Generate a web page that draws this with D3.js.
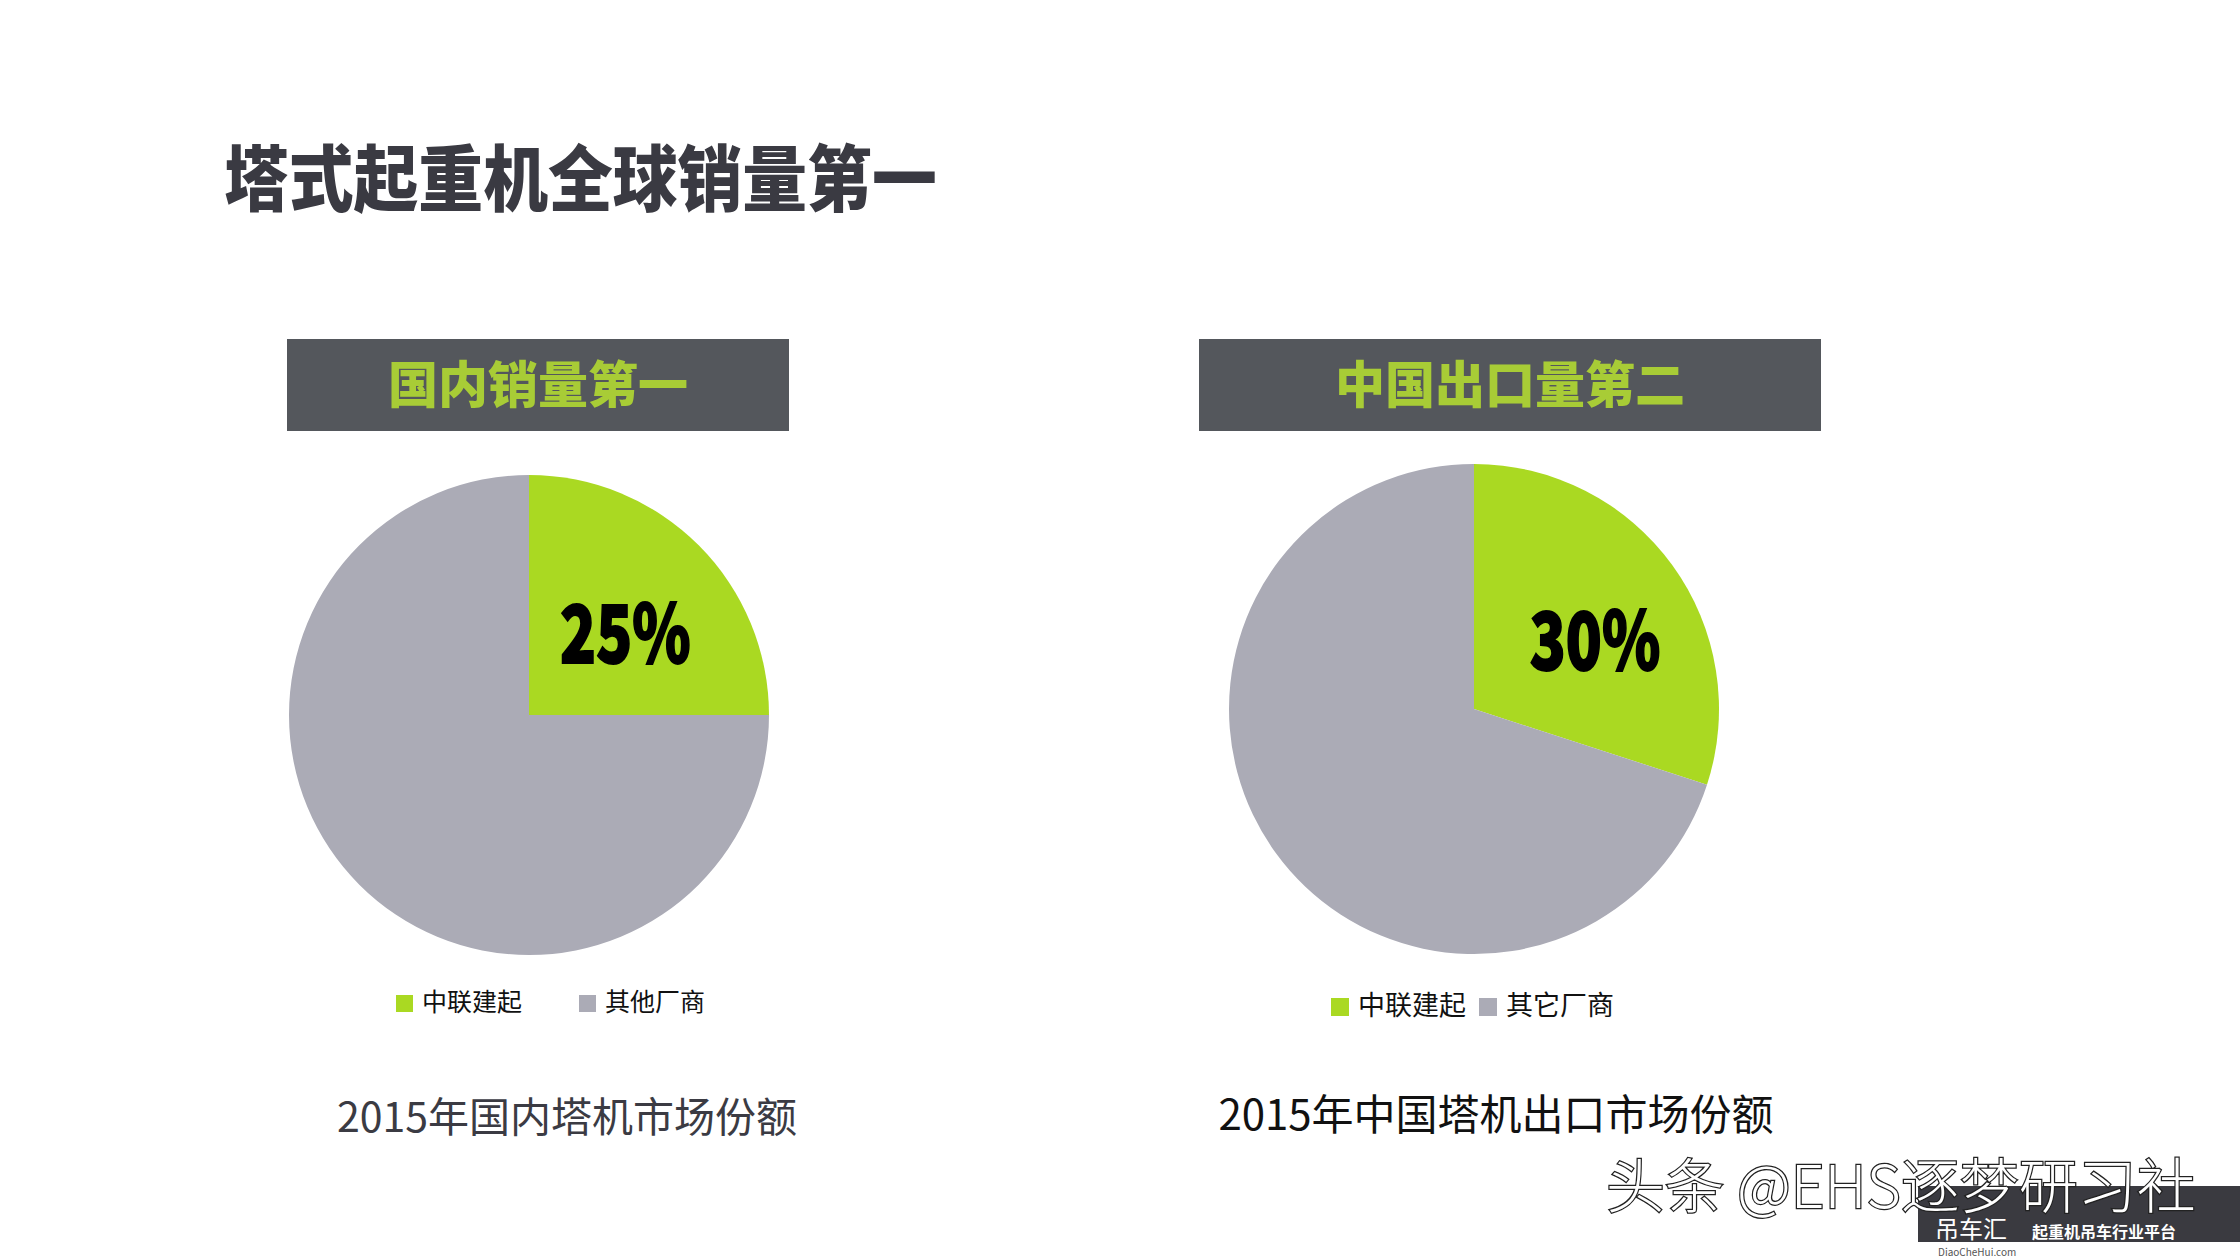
<!DOCTYPE html>
<html>
<head>
<meta charset="utf-8">
<script src="https://cdn.jsdelivr.net/npm/d3@7"></script>
<style>
  body { margin: 0; background: #fff; }
  text { font-family: "Noto Sans CJK SC", "Noto Sans", sans-serif; }
</style>
</head>
<body>
<div id="chart-area"></div>
<script>
const SVG_WIDTH = 2240;
const SVG_HEIGHT = 1260;

// data
const pageTitle = "塔式起重机全球销量第一";
const headerTitles = ["国内销量第一", "中国出口量第二"];
const captions = ["2015年国内塔机市场份额", "2015年中国塔机出口市场份额"];
const domesticLabels = ["中联建起", "其他厂商"];
const domesticValues = [25, 75];
const exportLabels = ["中联建起", "其它厂商"];
const exportValues = [30, 70];

const c = d3.scaleOrdinal().domain([0, 1]).range(["#aad922", "#ababb6"]);

// layout for the two panels
const panels = [
  { labels: domesticLabels, values: domesticValues, header: headerTitles[0], caption: captions[0],
    cx: 529, cy: 715, r: 240, lx: 3, ly: 41,
    box: { x: 287, y: 339, w: 502, h: 92 },
    legend: { y: 995, size: 17, font: 25, items: [396, 579] },
    cap: { x: 567, y: 1132, font: 41, fill: "#3b3b43" } },
  { labels: exportLabels, values: exportValues, header: headerTitles[1], caption: captions[1],
    cx: 1474, cy: 709, r: 245, lx: 12, ly: 40,
    box: { x: 1199, y: 339, w: 622, h: 92 },
    legend: { y: 998, size: 18, font: 27, items: [1331, 1479] },
    cap: { x: 1496, y: 1130, font: 42, fill: "#111" } }
];

const svg = d3.select("#chart-area").append("svg")
  .attr("width", SVG_WIDTH).attr("height", SVG_HEIGHT);

svg.append("text")
  .attr("transform", "translate(224,205) scale(0.9,1)")
  .attr("font-size", "72px")
  .attr("font-weight", 900)
  .style("fill", "#3a3a42")
  .text(pageTitle);

const pie = d3.pie().sort(null).value(d => d);

panels.forEach(p => {
  // header bar
  svg.append("rect")
    .attr("x", p.box.x).attr("y", p.box.y)
    .attr("width", p.box.w).attr("height", p.box.h)
    .attr("fill", "#54575c");
  svg.append("text")
    .attr("x", p.box.x + p.box.w / 2)
    .attr("y", p.box.y + p.box.h / 2 + 18)
    .attr("text-anchor", "middle")
    .attr("font-size", "50px")
    .attr("font-weight", 900)
    .style("fill", "#a8cc36")
    .text(p.header);

  const g = svg.append("g").attr("transform", `translate(${p.cx},${p.cy})`);
  const arc = d3.arc().innerRadius(0).outerRadius(p.r);
  const labelArc = d3.arc().innerRadius(p.r * 0.55).outerRadius(p.r * 0.55);
  const arcs = pie(p.values);

  g.selectAll("path").data(arcs).enter().append("path")
    .attr("d", arc)
    .attr("fill", (d, i) => c(i));

  // percentage on the first slice, narrow and heavy
  const total = d3.sum(p.values);
  const pos = labelArc.centroid(arcs[0]);
  g.append("text")
    .attr("transform", `translate(${pos[0] + p.lx},${pos[1] + p.ly}) scale(0.74,1)`)
    .attr("text-anchor", "middle")
    .attr("font-size", "80px")
    .attr("font-weight", 900)
    .style("fill", "#000")
    .style("stroke", "#000")
    .style("stroke-width", 2)
    .text(Math.round(p.values[0] / total * 100) + "%");

  // legend
  p.labels.forEach((lab, i) => {
    const lx = p.legend.items[i];
    svg.append("rect")
      .attr("x", lx).attr("y", p.legend.y)
      .attr("width", p.legend.size).attr("height", p.legend.size)
      .attr("fill", c(i));
    svg.append("text")
      .attr("x", lx + p.legend.size + 9)
      .attr("y", p.legend.y + p.legend.size - 1)
      .attr("font-size", p.legend.font + "px")
      .style("fill", "#111")
      .text(lab);
  });

  svg.append("text")
    .attr("x", p.cap.x).attr("y", p.cap.y)
    .attr("text-anchor", "middle")
    .attr("font-size", p.cap.font + "px")
    .style("fill", p.cap.fill)
    .text(p.caption);
});

// watermark
svg.append("rect").attr("x", 1918).attr("y", 1186).attr("width", 322).attr("height", 56).attr("fill", "#3a3a40");
svg.append("text")
  .attr("x", 1935).attr("y", 1238)
  .attr("font-size", "24px")
  .style("fill", "#fff")
  .text("吊车汇");
svg.append("text")
  .attr("x", 2032).attr("y", 1238)
  .attr("font-size", "16px")
  .attr("font-weight", 700)
  .style("fill", "#fff")
  .text("起重机吊车行业平台");
svg.append("text")
  .attr("x", 1938).attr("y", 1256)
  .attr("font-size", "10px")
  .style("fill", "#555")
  .text("DiaoCheHui.com");
svg.append("text")
  .attr("x", 1606).attr("y", 1208)
  .attr("font-size", "59px")
  .attr("font-weight", 300)
  .style("fill", "#fff")
  .style("stroke", "#222")
  .style("stroke-width", 2.5)
  .style("paint-order", "stroke")
  .text("头条 @EHS逐梦研习社");
</script>
</body>
</html>
